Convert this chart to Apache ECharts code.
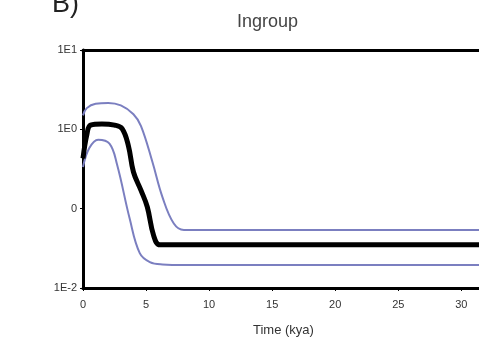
<!DOCTYPE html>
<html>
<head>
<meta charset="utf-8">
<script src="https://cdn.jsdelivr.net/npm/echarts@6/dist/echarts.min.js"></script>
<style>
  html, body { margin: 0; padding: 0; background: #fff; }
  #chart { width: 479px; height: 338px; }
</style>
</head>
<body>
<div id="chart"></div>
<script>
// Time (kya) and population size
const medianTime = [0, 0.3, 0.6, 1.5, 2.5, 3.1, 3.6, 4.0, 4.6, 5.1, 5.6, 6.1, 8, 15, 25, 31.4]
const medianSize = [0.43, 0.85, 1.13, 1.17, 1.13, 1.02, 0.62, 0.29, 0.17, 0.105, 0.046, 0.035, 0.035, 0.035, 0.035, 0.035]

const upperTime = [0, 0.3, 1, 2, 3, 4, 4.6, 5.5, 6.3, 7.2, 8, 10, 20, 31.4]
const upperSize = [1.5, 1.85, 2.1, 2.15, 2.0, 1.55, 1.1, 0.39, 0.14, 0.065, 0.054, 0.054, 0.054, 0.054]

const lowerTime = [0, 0.5, 1.2, 2.1, 2.7, 3.7, 4.5, 5.3, 6.3, 8, 15, 31.4]
const lowerSize = [0.335, 0.58, 0.74, 0.66, 0.36, 0.075, 0.0275, 0.0212, 0.0198, 0.0195, 0.0195, 0.0195]

const yTickLabels = { 10: '1E1', 1: '1E0', 0.1: '0', 0.01: '1E-2' }

const pairs = (xs, ys) => xs.map((x, i) => [x, ys[i]])

const chart = echarts.init(document.getElementById('chart'))

const fontFamily = 'Arial, Liberation Sans, sans-serif'
const axisLabelStyle = { color: '#333', fontSize: 11, fontFamily }

chart.setOption({
  animation: false,
  backgroundColor: '#fff',
  title: [
    {
      text: 'Ingroup',
      left: 232,
      top: 8,
      textStyle: { color: '#444', fontSize: 18, fontWeight: 'normal', fontFamily },
    },
    {
      text: 'B)',
      left: 47,
      top: -14,
      textStyle: { color: '#222', fontSize: 27, fontWeight: 'normal', fontFamily },
    },
    {
      text: 'Time (kya)',
      left: 248,
      top: 319,
      textStyle: { color: '#333', fontSize: 13, fontWeight: 'normal', fontFamily },
    },
  ],
  grid: { left: 83, right: 0, top: 50, bottom: 50, show: false },
  xAxis: [
    {
      type: 'value',
      min: 0,
      max: 31.4,
      interval: 5,
      axisLine: { show: true, lineStyle: { color: '#000', width: 3 } },
      axisTick: { show: true, length: 3, lineStyle: { color: '#000', width: 1 } },
      axisLabel: { ...axisLabelStyle, margin: 11, showMaxLabel: false },
      splitLine: { show: false },
    },
    {
      type: 'value',
      position: 'top',
      min: 0,
      max: 31.4,
      axisLine: { show: true, lineStyle: { color: '#000', width: 3 } },
      axisTick: { show: false },
      axisLabel: { show: false },
      splitLine: { show: false },
    },
  ],
  yAxis: {
    type: 'log',
    logBase: 10,
    min: 0.01,
    max: 10,
    axisLine: { show: true, lineStyle: { color: '#000', width: 3 } },
    axisTick: { show: true, length: 3, lineStyle: { color: '#000', width: 1 } },
    axisLabel: {
      ...axisLabelStyle,
      margin: 6,
      formatter: v => yTickLabels[v] ?? '',
    },
    splitLine: { show: false },
  },
  series: [
    {
      type: 'line',
      name: 'upper',
      data: pairs(upperTime, upperSize),
      smooth: 0.4,
      showSymbol: false,
      lineStyle: { color: '#7b7fc0', width: 2 },
    },
    {
      type: 'line',
      name: 'lower',
      data: pairs(lowerTime, lowerSize),
      smooth: 0.4,
      showSymbol: false,
      lineStyle: { color: '#7b7fc0', width: 2 },
    },
    {
      type: 'line',
      name: 'median',
      data: pairs(medianTime, medianSize),
      smooth: 0.4,
      showSymbol: false,
      lineStyle: { color: '#000', width: 5 },
    },
  ],
})
</script>
</body>
</html>
